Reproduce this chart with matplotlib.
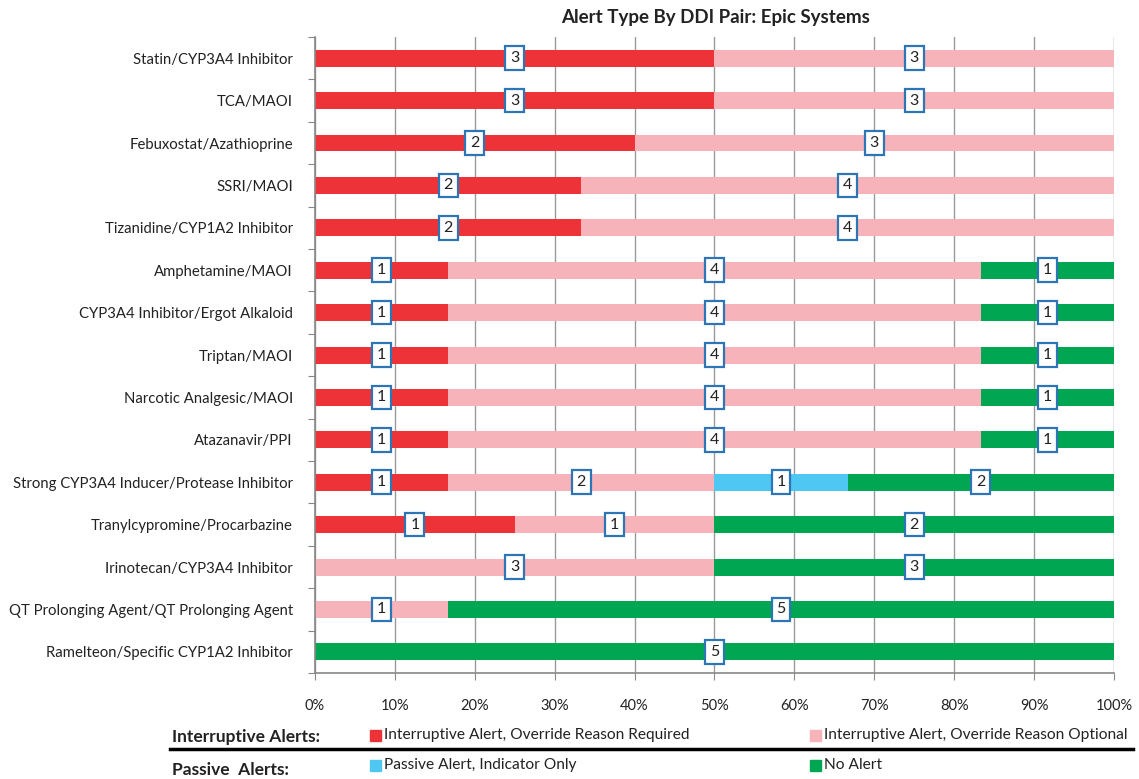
import numpy as np
import matplotlib.pyplot as plt
from matplotlib.patches import Rectangle
from matplotlib.lines import Line2D

plt.rcParams['font.family'] = ['Lato', 'DejaVu Sans']

pairs = ["Statin/CYP3A4 Inhibitor", "TCA/MAOI", "Febuxostat/Azathioprine", "SSRI/MAOI",
         "Tizanidine/CYP1A2 Inhibitor", "Amphetamine/MAOI", "CYP3A4 Inhibitor/Ergot Alkaloid",
         "Triptan/MAOI", "Narcotic Analgesic/MAOI", "Atazanavir/PPI",
         "Strong CYP3A4 Inducer/Protease Inhibitor", "Tranylcypromine/Procarbazine",
         "Irinotecan/CYP3A4 Inhibitor", "QT Prolonging Agent/QT Prolonging Agent",
         "Ramelteon/Specific CYP1A2 Inhibitor"]
required = [3, 3, 2, 2, 2, 1, 1, 1, 1, 1, 1, 1, 0, 0, 0]
optional = [3, 3, 3, 4, 4, 4, 4, 4, 4, 4, 2, 1, 3, 1, 0]
passive = [0, 0, 0, 0, 0, 0, 0, 0, 0, 0, 1, 0, 0, 0, 0]
no_alert = [0, 0, 0, 0, 0, 1, 1, 1, 1, 1, 2, 2, 3, 5, 5]

series = [("Interruptive Alert, Override Reason Required", required, "#EE3338"),
          ("Interruptive Alert, Override Reason Optional", optional, "#F7B3BA"),
          ("Passive Alert, Indicator Only", passive, "#4FC7F3"),
          ("No Alert", no_alert, "#00A651")]

counts = np.array([s[1] for s in series], dtype=float)
totals = counts.sum(axis=0)
pct = counts / totals * 100

fig = plt.figure(figsize=(11.39, 7.79), dpi=100)
ax = fig.add_axes([0.2766, 0.136, 0.7014, 0.8165])

n = len(pairs)
y = np.arange(n)[::-1]
left = np.zeros(n)
for i, (name, vals, color) in enumerate(series):
    ax.barh(y, pct[i], left=left, height=0.4, color=color, zorder=2)
    for j in range(n):
        if counts[i, j] > 0:
            ax.text(left[j] + pct[i, j] / 2, y[j], str(int(counts[i, j])), ha='center', va='center',
                    fontsize=11.5, color='#222222', zorder=4,
                    bbox=dict(boxstyle='square,pad=0.3', fc='white', ec='#2E75B6', lw=1.6))
    left += pct[i]

ax.set_xlim(0, 100)
ax.set_ylim(-0.5, n - 0.5)
ax.set_xticks(np.arange(0, 101, 10))
ax.set_xticklabels([f"{v}%" for v in range(0, 101, 10)], fontsize=10.5, color='#222222')
ax.tick_params(axis='x', length=5, color='#888888', pad=14)
ax.set_yticks(np.arange(-0.5, n, 1))
ax.set_yticklabels([])
ax.tick_params(axis='y', which='major', length=5, color='#888888')
ax.set_yticks(y, minor=True)
ax.set_yticklabels(pairs, minor=True, fontsize=10.7, color='#222222')
ax.tick_params(axis='y', which='minor', length=0, pad=16)
ax.grid(axis='x', color='#999999', lw=1, zorder=0)
ax.set_axisbelow(True)
for s in ['top', 'right']:
    ax.spines[s].set_visible(False)
for s in ['left', 'bottom']:
    ax.spines[s].set_color('#888888')
    ax.spines[s].set_linewidth(1.2)

fig.text(0.628, 0.977, "Alert Type By DDI Pair: Epic Systems", ha='center', va='center',
         fontsize=13.5, fontweight='bold', color='#222222')

# legend block
W, H = 1139, 779
def px(x, yy):
    return x / W, 1 - yy / H

fig.text(*px(172, 737), "Interruptive Alerts:", fontsize=12.5, fontweight='bold', va='center', color='#222222')
fig.text(*px(172, 770), "Passive  Alerts:", fontsize=12.5, fontweight='bold', va='center', color='#222222')
fig.add_artist(Line2D([170 / W, 1133 / W], [1 - 749 / H] * 2, color='black', lw=2.5))
entries = [(370, 735, 0), (810, 735, 1), (370, 765, 2), (810, 765, 3)]
for x0, y0, k in entries:
    name, _, color = series[k]
    fig.add_artist(Rectangle(px(x0, y0 + 6), 11 / W, 11 / H, color=color, transform=fig.transFigure))
    fig.text(*px(x0 + 14, y0), name, fontsize=11.2, va='center', color='#222222')

fig.savefig("out.png", dpi=100)
